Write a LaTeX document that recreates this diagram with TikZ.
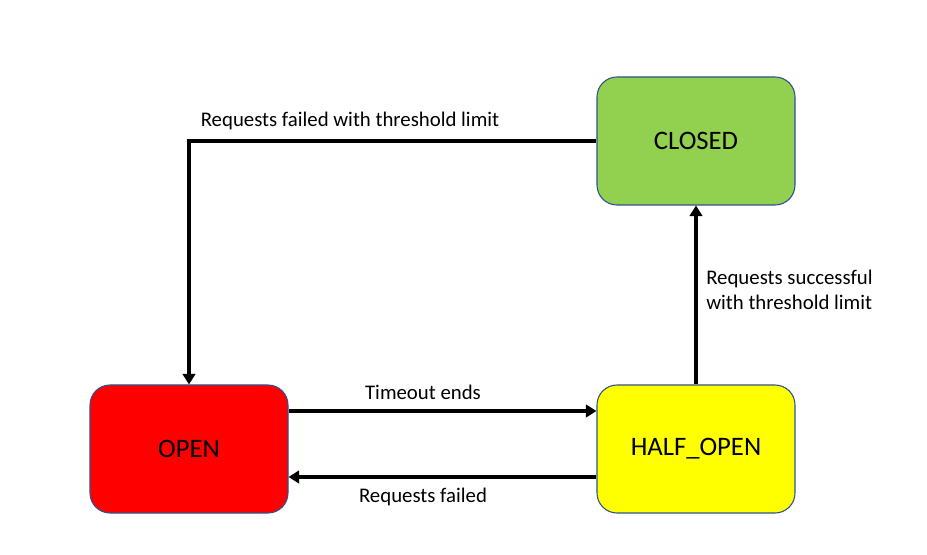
\documentclass[tikz,border=0pt]{standalone}
\usepackage{fontspec}
\setmainfont{Carlito}
\usepackage{xcolor}
\definecolor{stgreen}{HTML}{92D050}
\definecolor{stred}{HTML}{FF0000}
\definecolor{styellow}{HTML}{FFFF00}
\definecolor{stborder}{HTML}{2F528F}
\usetikzlibrary{arrows.meta}
\usetikzlibrary{positioning}

\begin{document}
\begin{tikzpicture}[x=0.75pt,y=-0.75pt,
    state/.style={draw=stborder,line width=0.8pt,rounded corners=15pt,minimum width=148.5pt,minimum height=96pt,font=\fontsize{20}{24}\selectfont},
    trans/.style={line width=2.6pt,-{Triangle[length=8pt,width=9.5pt]}},
    lbl/.style={font=\fontsize{15.6}{19}\selectfont,inner sep=0pt}]
          \useasboundingbox (0,0) rectangle (927,555);
          \node[state,fill=stgreen](closed) at (696,141) {CLOSED};
          \node[state,fill=stred](open) at (189,449) {OPEN};
          \node[state,fill=styellow](half) at (696,449) {HALF\_OPEN};
          % transitions
          \draw[trans] (closed.west) -| (open.north);
          \draw[trans] ([yshift=28.5pt]open.east) -- ([yshift=28.5pt]half.west);
          \draw[trans] ([yshift=-21pt]half.west) -- ([yshift=-21pt]open.east);
          \draw[trans] (half.north) -- (closed.south);
          \node[lbl](failthr) at (350,121) {Requests failed with threshold limit};
          \node[lbl](tout) at (423,392) {Timeout ends};
          \node[lbl](fail) at (423,497) {Requests failed};
          \node[lbl,anchor=west,align=left](succ) at (706,290) {Requests successful\\with threshold limit};
      \end{tikzpicture}
\end{document}
